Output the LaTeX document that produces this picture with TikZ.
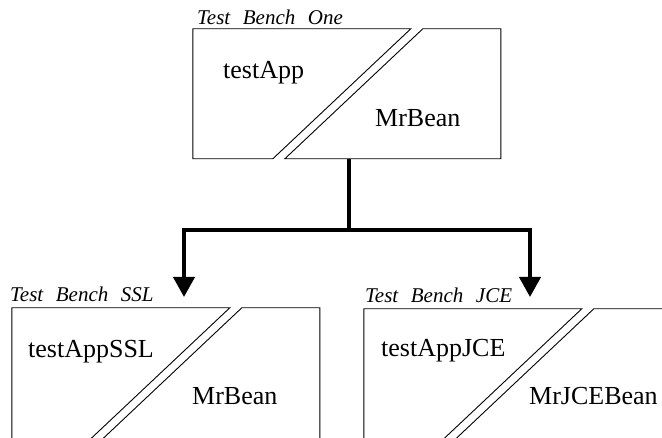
\documentclass[tikz,border=0pt]{standalone}
\usepackage{fontspec}
\setmainfont{Liberation Serif}
\usetikzlibrary{arrows.meta}

\tikzset{
  bench/.style={rectangle, draw=none, minimum width=308pt, minimum height=#1, inner sep=0pt},
  bench/.default=130pt,
  outline/.style={line width=0.9pt, line join=miter},
  part/.style={inner sep=0pt, anchor=base west, font=\fontsize{26}{30}\selectfont},
  title/.style={inner sep=0pt, anchor=base west, font=\fontsize{21}{24}\selectfont\itshape},
  feed/.style={line width=4pt, line join=miter, -{Triangle[length=20pt,width=21pt]}},
}
\newcommand{\gapword}{\hspace{0.6em}}

\begin{document}
\begin{tikzpicture}[x=1pt, y=-1pt]
  \useasboundingbox (0,0) rectangle (662,438);

  % the three test benches (the lower two run past the bottom edge)
  \node[bench]        (tb1)   at (347,94)  {};
  \node[bench=136pt]  (tbssl) at (166,376) {};
  \node[bench=136pt]  (tbjce) at (518,377) {};

  % each bench is split by a double diagonal into two parts
  \foreach \n/\h in {tb1/130,tbssl/136,tbjce/136}{
    \begin{scope}[shift={(\n.north west)}]
      \pgfmathsetmacro{\lo}{218-1.0615*\h}
      \pgfmathsetmacro{\ro}{230-1.0615*\h}
      \draw[outline] (0,0) -- (218,0) -- (\lo,\h) -- (0,\h) -- cycle;
      \draw[outline] (230,0) -- (308,0) -- (308,\h) -- (\ro,\h) -- cycle;
    \end{scope}
  }

  % bench titles
  \node[title] (t1)   at (197,25)  {Test\gapword Bench\gapword One};
  \node[title] (tssl) at (10,302)  {Test\gapword Bench\gapword SSL};
  \node[title] (tjce) at (365,303) {Test\gapword Bench\gapword JCE};

  % parts
  \node[part] (app1)    at (223,79)  {testApp};
  \node[part] (bean1)   at (375,127) {MrBean};
  \node[part] (appssl)  at (28,358)  {testAppSSL};
  \node[part] (beanssl) at (192,405) {MrBean};
  \node[part] (appjce)  at (381,357) {testAppJCE};
  \node[part] (beanjce) at (529,405) {MrJCEBean};

  % derivation arrows
  \coordinate (fork)   at (349,230);
  \coordinate (tipssl) at (184,297);
  \coordinate (tipjce) at (530,297);
  \draw[line width=4pt] (tb1.south -| fork) -- (fork);
  \draw[feed] (fork) -| (tipssl);
  \draw[feed] (fork) -| (tipjce);
\end{tikzpicture}
\end{document}
